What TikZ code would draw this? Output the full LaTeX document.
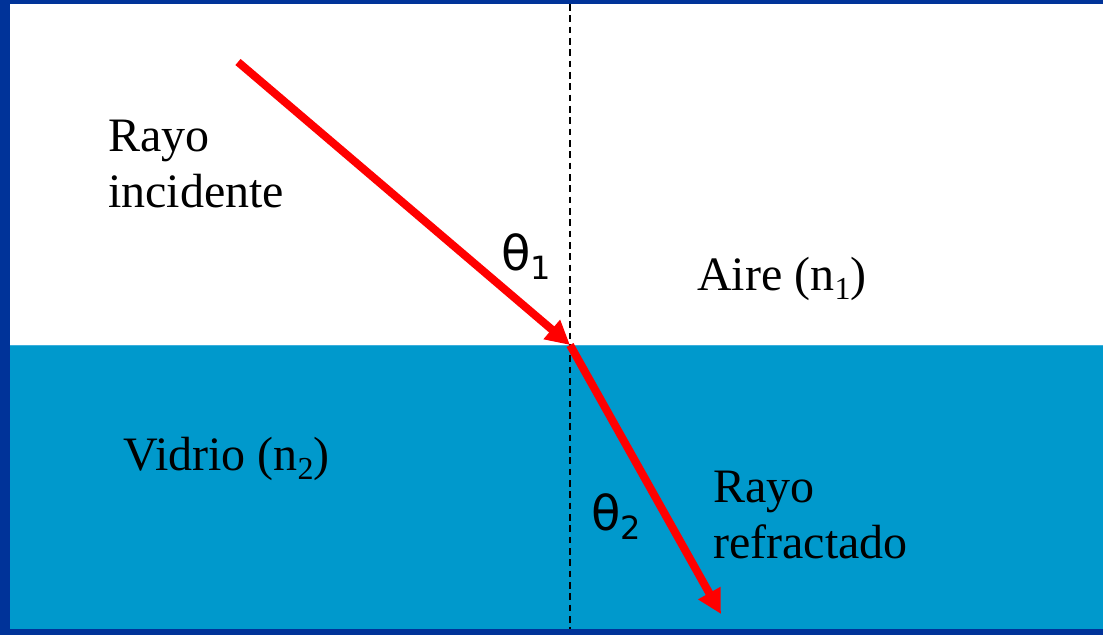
\documentclass[tikz,border=0pt]{standalone}
\usepackage{fontspec}
\setmainfont{Liberation Serif}
\newfontfamily\griega{DejaVu Sans}
\usetikzlibrary{arrows.meta}
\definecolor{marco}{RGB}{0,51,153}
\definecolor{vidrio}{RGB}{0,153,204}
\definecolor{borde}{RGB}{60,175,220}

\begin{document}
\begin{tikzpicture}[x=0.75pt, y=-0.75pt,
	rayo/.style={red, line width=6pt, -{Triangle[length=18pt, width=18pt]}},
	texto/.style={anchor=base west, inner sep=0pt, align=left,
		font=\fontsize{36}{41.5}\selectfont},
	angulo/.style={anchor=base west, inner sep=0pt,
		font=\griega\fontsize{36}{36}\selectfont}]
	\useasboundingbox (0,0) rectangle (1103,635);
	% fondo y medios
	\fill[marco] (0,0) rectangle (1103,635);
	\fill[white] (10,4) rectangle (1103,345);
	\fill[vidrio] (10,345) rectangle (1103,629);
	\draw[borde, line width=0.75pt] (10,345.5) -- (1103,345.5);
	% normal
	\coordinate (n1) at (570,4);
	\coordinate (n2) at (570,629);
	\draw[black, line width=1.5pt, dash pattern=on 5pt off 3.5pt] (n1) -- (n2);
	% rayos
	\coordinate (origen) at (238,62);
	\coordinate (incidencia) at (570,345);
	\coordinate (final) at (721,614);
	\draw[rayo] (origen) -- (incidencia);
	\draw[rayo] (incidencia) -- (final);
	% textos
	\node[texto] (incidente) at (108,207) {Rayo\\incidente};
	\node[texto] (refractado) at (713,558) {Rayo\\refractado};
	\node[texto] (aire) at (697,290) {Aire (n\raisebox{-7pt}{\fontsize{24}{24}\selectfont 1})};
	\node[texto] (vidrio) at (123,470) {Vidrio (n\raisebox{-7pt}{\fontsize{24}{24}\selectfont 2})};
	\node[angulo] (theta1) at (501,270) {θ\raisebox{-7pt}{\fontsize{24}{24}\selectfont 1}};
	\node[angulo] (theta2) at (591,530) {θ\raisebox{-7pt}{\fontsize{24}{24}\selectfont 2}};
\end{tikzpicture}
\end{document}
